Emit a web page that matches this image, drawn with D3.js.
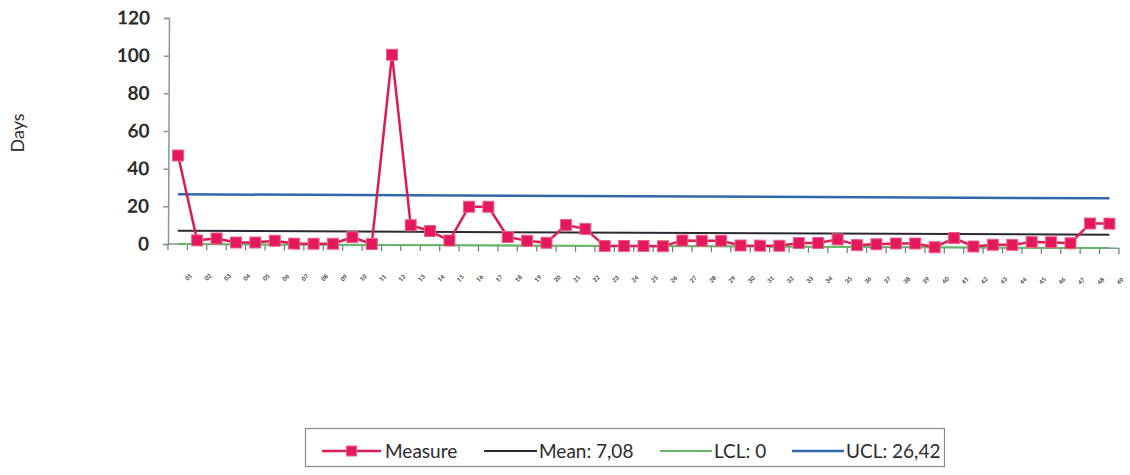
<!DOCTYPE html>
<html>
<head>
<meta charset="utf-8">
<script src="https://cdn.jsdelivr.net/npm/d3@7"></script>
<style>
  body { margin: 0; background: #fff; }
  svg { display: block; }
</style>
</head>
<body>
<svg id="chart" width="1130" height="475"></svg>
<script>
// Control chart: days per item, with mean and control limits
const categories = [
  "01","02","03","04","05","06","07","08","09","10",
  "11","12","13","14","15","16","17","18","19","20",
  "21","22","23","24","25","26","27","28","29","30",
  "31","32","33","34","35","36","37","38","39","40",
  "41","42","43","44","45","46","47","48","49"
];
const measure = [
  47, 2, 3, 1, 1, 2, 0.5, 0.5, 0.5, 4,
  0.5, 101, 10.5, 7.5, 2.5, 20.5, 20.5, 4.5, 2.5, 1.5,
  11, 9, 0, 0, 0, 0, 3, 3, 3, 0.5,
  0.5, 0.5, 2, 2, 4, 1, 1.5, 2, 2, 0,
  5, 0.5, 1.5, 1.5, 3, 3, 2.5, 13, 13
];
const meanValue = 7.08;
const lclValue = 0;
const uclValue = 26.42;
const yTicks = [0, 20, 40, 60, 80, 100, 120];
const yTitle = "Days";

const fmt = d3.formatLocale({decimal: ",", thousands: ".", grouping: [3], currency: ["", " €"]}).format(",.2~f");
const seriesNames = ["Measure", "Mean: " + fmt(meanValue), "LCL: " + fmt(lclValue), "UCL: " + fmt(uclValue)];

const colors = {
  measure: "#dc1d55",
  marker: "#e3195b",
  markerEdge: "#f0608c",
  mean: "#2a2a33",
  lcl: "#62b865",
  ucl: "#2e68ae",
  axis: "#8795a3",
  text: "#2b2b2b"
};

const svg = d3.select("#chart");
const plotLeft = 168, plotRight = 1119, plotTop = 18, plotBottom = 244;

const x = d3.scalePoint().domain(categories).range([plotLeft, plotRight]).padding(0.5);
const xBand = d3.scaleBand().domain(categories).range([plotLeft, plotRight]);
const y = d3.scaleLinear().domain([0, 120]).range([plotBottom, plotTop]);

// y axis title
svg.append("text")
  .attr("transform", `translate(24,${(plotTop + plotBottom) / 2 + 2}) rotate(-90)`)
  .attr("text-anchor", "middle")
  .attr("font-family", "Lato, 'Open Sans', sans-serif")
  .attr("font-size", 18)
  .attr("fill", colors.text)
  .text(yTitle);

// body of the chart (slightly tilted as printed)
const body = svg.append("g").attr("transform", `rotate(0.25 ${plotLeft} ${plotBottom})`);

// y axis
const yAxis = body.append("g")
  .attr("transform", `translate(${plotLeft},0)`)
  .call(d3.axisLeft(y).tickValues(yTicks).tickSize(5).tickPadding(14));
yAxis.select(".domain").attr("stroke", colors.axis).attr("stroke-width", 1.5);
yAxis.selectAll(".tick line").attr("stroke", colors.axis).attr("stroke-width", 1.5);
yAxis.selectAll(".tick text")
  .attr("font-family", "Lato, 'Open Sans', sans-serif")
  .attr("font-size", 19)
  .attr("font-weight", 700)
  .attr("fill", colors.text);

// x axis with ticks at category boundaries
const xAxisG = body.append("g").attr("transform", `translate(0,${plotBottom})`);
xAxisG.append("line")
  .attr("x1", plotLeft).attr("x2", plotRight)
  .attr("stroke", colors.axis).attr("stroke-width", 1.5);
const bounds = categories.map(c => xBand(c)).concat([plotRight]);
xAxisG.selectAll("line.tk").data(bounds).join("line")
  .attr("class", "tk")
  .attr("x1", d => d).attr("x2", d => d)
  .attr("y1", 0).attr("y2", 6)
  .attr("stroke", "#6f7a72").attr("stroke-width", 1.2);
xAxisG.selectAll("text").data(categories).join("text")
  .attr("transform", d => `translate(${x(d) + 15},${32}) rotate(-45)`)
  .attr("text-anchor", "end")
  .attr("font-family", "Lato, sans-serif")
  .attr("font-size", 6)
  .attr("font-weight", 700)
  .attr("fill", "#3a3a3a")
  .text(d => d);

// reference lines
const refLine = (v, color, w) => body.append("line")
  .attr("x1", x(categories[0])).attr("x2", x(categories[categories.length - 1]))
  .attr("y1", y(v)).attr("y2", y(v))
  .attr("stroke", color).attr("stroke-width", w);
refLine(lclValue, colors.lcl, 2);
refLine(uclValue, colors.ucl, 2.5);
refLine(meanValue, colors.mean, 2);

// measure series
const line = d3.line().x((d, i) => x(categories[i])).y(d => y(d));
body.append("path")
  .datum(measure)
  .attr("d", line)
  .attr("fill", "none")
  .attr("stroke", colors.measure)
  .attr("stroke-width", 2.5)
  .attr("stroke-linejoin", "round");
const ms = 11;
body.selectAll("rect.pt").data(measure).join("rect")
  .attr("class", "pt")
  .attr("x", (d, i) => x(categories[i]) - ms / 2)
  .attr("y", d => y(d) - ms / 2)
  .attr("width", ms).attr("height", ms)
  .attr("fill", colors.marker)
  .attr("stroke", colors.markerEdge)
  .attr("stroke-width", 1);

// legend
const legend = svg.append("g");
legend.append("rect")
  .attr("x", 305.5).attr("y", 428.5).attr("width", 639).attr("height", 38)
  .attr("fill", "#fff").attr("stroke", "#8a8a8a").attr("stroke-width", 1.2);
const legendItems = [
  {name: seriesNames[0], color: colors.measure, x0: 322, x1: 381, tx: 385, marker: true, w: 2.5},
  {name: seriesNames[1], color: colors.mean, x0: 484, x1: 537, tx: 539, marker: false, w: 2},
  {name: seriesNames[2], color: colors.lcl, x0: 660, x1: 712, tx: 714, marker: false, w: 2},
  {name: seriesNames[3], color: colors.ucl, x0: 792, x1: 844, tx: 846, marker: false, w: 2.5}
];
const ly = 451;
legendItems.forEach(it => {
  legend.append("line")
    .attr("x1", it.x0).attr("x2", it.x1).attr("y1", ly).attr("y2", ly)
    .attr("stroke", it.color).attr("stroke-width", it.w);
  if (it.marker) {
    legend.append("rect")
      .attr("x", (it.x0 + it.x1) / 2 - 5).attr("y", ly - 5)
      .attr("width", 10).attr("height", 10)
      .attr("fill", colors.marker).attr("stroke", colors.markerEdge);
  }
  legend.append("text")
    .attr("x", it.tx).attr("y", ly + 6.5)
    .attr("font-family", "Lato, 'Open Sans', sans-serif")
    .attr("font-size", 19)
    .attr("fill", colors.text)
    .text(it.name);
});
</script>
</body>
</html>
